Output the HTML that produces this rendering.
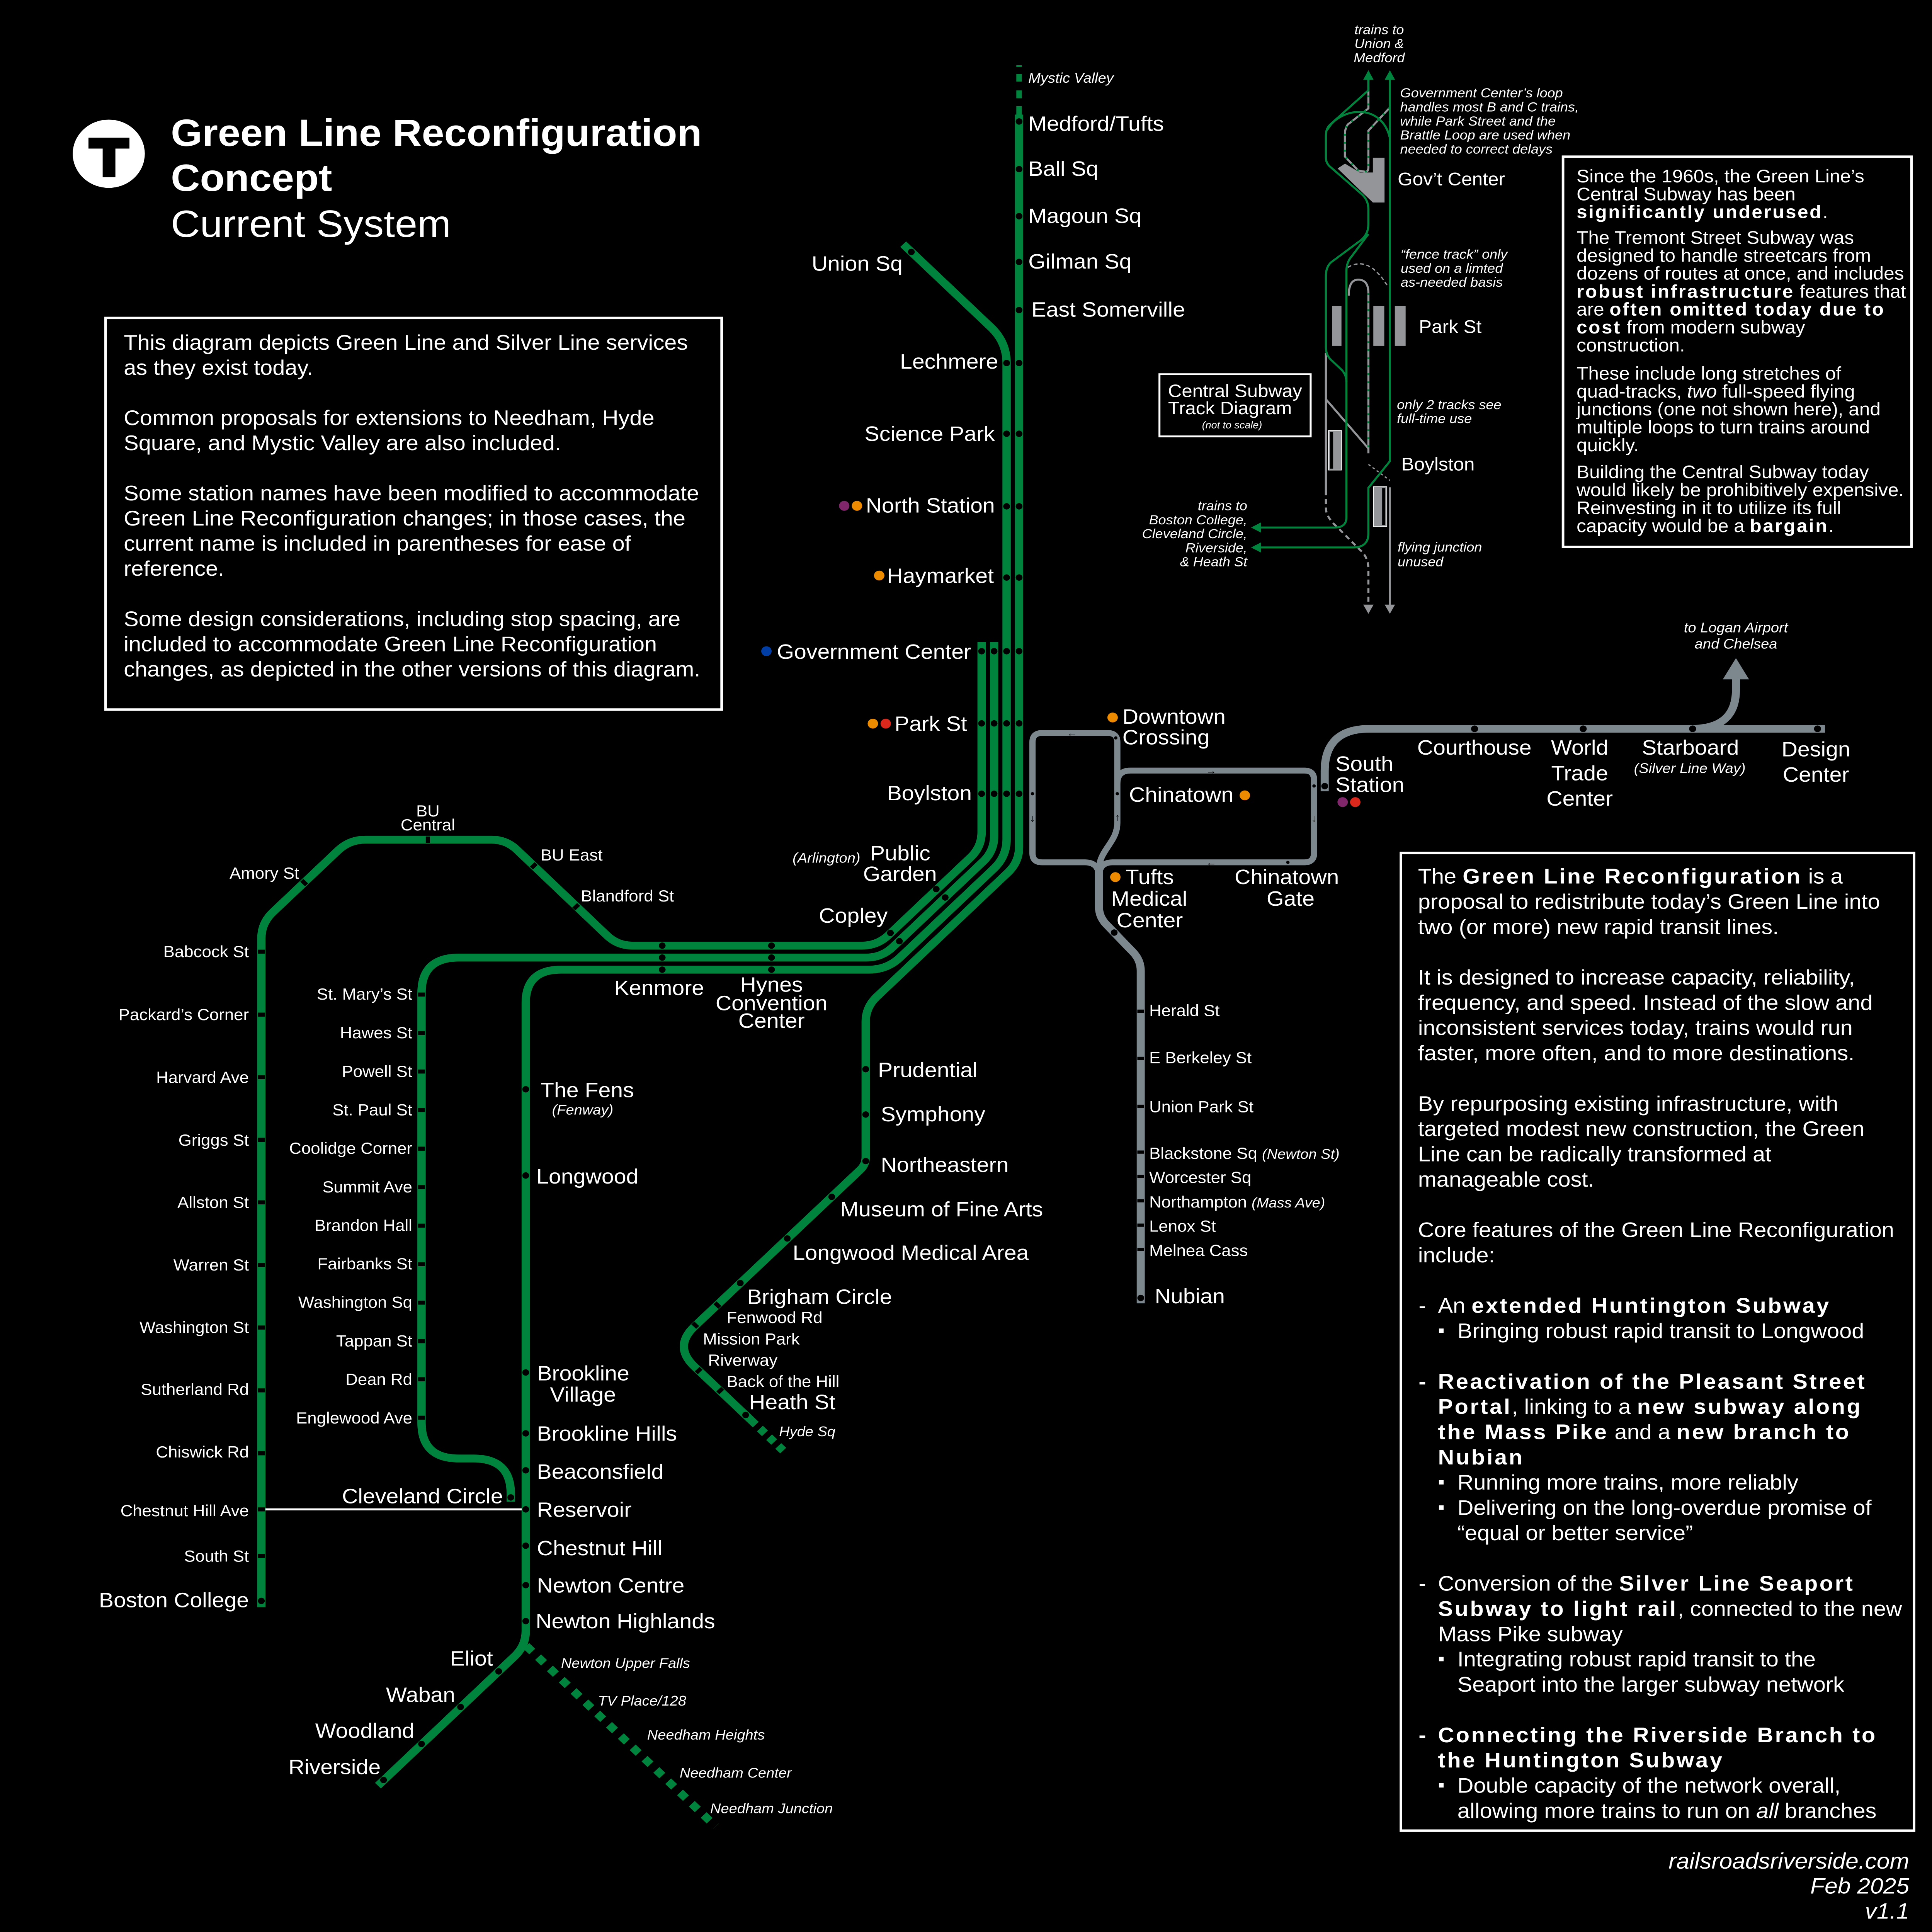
<!DOCTYPE html>
<html><head><meta charset="utf-8"><title>Green Line Reconfiguration Concept - Current System</title>
<style>html,body{margin:0;padding:0;background:#000;width:100%;height:100%;overflow:hidden}svg{display:block;width:100vw;height:100vh}</style></head>
<body>
<svg xmlns="http://www.w3.org/2000/svg" viewBox="0 0 1485 1568.27" preserveAspectRatio="none">
<style>
text{fill:#fff;font-family:"Liberation Sans",Arial,sans-serif}
.M{font-size:17px}.S{font-size:13px}.I{font-size:11.3px;font-style:italic}.N{font-size:10.7px;font-style:italic}
.E{text-anchor:end}.C{text-anchor:middle}.P{font-size:17.15px}.Q{font-size:14.7px}
.bb{font-weight:bold;letter-spacing:1.35px}.bq{font-weight:bold;letter-spacing:1.05px}
</style>
<rect width="1485" height="1568.27" fill="#000"/>

<!-- T logo and title -->
<circle cx="83.6" cy="124.8" r="27.7" fill="#fff"/>
<rect x="68" y="111.8" width="31.5" height="8.8" fill="#000"/>
<rect x="78.9" y="120" width="9.8" height="23.8" fill="#000"/>
<text x="131.3" y="118.4" style="font-size:31px;font-weight:bold">Green Line Reconfiguration</text>
<text x="131.3" y="155" style="font-size:31px;font-weight:bold">Concept</text>
<text x="131.3" y="192.2" style="font-size:31px">Current System</text>

<!-- Left text box -->
<rect x="81.2" y="258.1" width="473.5" height="317.9" fill="none" stroke="#fff" stroke-width="2"/>
<g class="P">
<text x="95.1" y="283.8" class="P">This diagram depicts Green Line and Silver Line services</text>
<text x="95.1" y="304.2" class="P">as they exist today.</text>
<text x="95.1" y="345" class="P">Common proposals for extensions to Needham, Hyde</text>
<text x="95.1" y="365.4" class="P">Square, and Mystic Valley are also included.</text>
<text x="95.1" y="406.2" class="P">Some station names have been modified to accommodate</text>
<text x="95.1" y="426.6" class="P">Green Line Reconfiguration changes; in those cases, the</text>
<text x="95.1" y="447" class="P">current name is included in parentheses for ease of</text>
<text x="95.1" y="467.4" class="P">reference.</text>
<text x="95.1" y="508.2" class="P">Some design considerations, including stop spacing, are</text>
<text x="95.1" y="528.6" class="P">included to accommodate Green Line Reconfiguration</text>
<text x="95.1" y="549" class="P">changes, as depicted in the other versions of this diagram.</text>
</g>

<!-- Silver Line -->
<g fill="none" stroke="#7c878e" stroke-width="4.8">
<path d="M844.7,712 Q844.7,700 834,700 L801,700 Q793.6,700 793.6,692.6 L793.6,602.4 Q793.6,595 801,595 L851.4,595 Q858.8,595 858.8,602.4 L858.8,668 C858.8,684 844.7,690 844.7,706"/>
<path d="M858.8,636 Q858.8,625.5 869,625.5 L1002.6,625.5 Q1010,625.5 1010,633 L1010,692.6 Q1010,700 1002.6,700 L855,700 Q844.7,700 844.7,712"/>
</g>
<g fill="none" stroke="#7c878e" stroke-width="6.2">
<path d="M844.7,704 L844.7,736 Q844.7,744 850,750 L871,773 Q876.8,779.5 876.8,788 L876.8,1058"/>
<path d="M1018.2,642.3 L1018.2,626 Q1018.2,591.6 1052.7,591.6 L1402.7,591.6"/>
<path d="M1300,591.6 Q1334.3,591.6 1334.3,560 L1334.3,550"/>
</g>
<polygon points="1324.2,551.5 1344.4,551.5 1334.3,534.2" fill="#7c878e"/>
<g fill="#000" style="font-size:8px" text-anchor="middle">
<text x="824" y="597.8" style="fill:#000">←</text>
<text x="931" y="628.3" style="fill:#000">→</text>
<text x="931" y="702.8" style="fill:#000">←</text>
<text x="793.6" y="667" style="fill:#000">↓</text>
<text x="858.8" y="666" style="fill:#000">↑</text>
<text x="1010" y="667" style="fill:#000">↓</text>
</g>
<g fill="#000">
<circle cx="857.6" cy="599" r="1.3"/><circle cx="858.8" cy="644.3" r="1.3"/><circle cx="793.6" cy="644.3" r="1.3"/>
<circle cx="989.9" cy="700" r="1.3"/><circle cx="1010" cy="638" r="1.3"/>
<circle cx="1018.2" cy="638.1" r="2.6"/><circle cx="856.4" cy="757" r="2.6"/><circle cx="876.8" cy="1053.6" r="2.6"/>
<circle cx="1133.4" cy="591.6" r="2.7"/><circle cx="1216.9" cy="591.6" r="2.7"/><circle cx="1301" cy="591.6" r="2.7"/><circle cx="1397" cy="591.6" r="2.7"/>
<rect x="874.2" y="819.5" width="5.2" height="2.6"/><rect x="874.2" y="857.8" width="5.2" height="2.6"/>
<rect x="874.2" y="896.7" width="5.2" height="2.6"/><rect x="874.2" y="933.9" width="5.2" height="2.6"/>
<rect x="874.2" y="953.7" width="5.2" height="2.6"/><rect x="874.2" y="973.4" width="5.2" height="2.6"/>
<rect x="874.2" y="993.2" width="5.2" height="2.6"/><rect x="874.2" y="1013" width="5.2" height="2.6"/>
</g>

<!-- Green Line -->
<g fill="none" stroke="#00843d" stroke-width="6.4">
<path d="M754.5,521 L754.5,675.5 Q754.5,687.5 746,696 L682.9,759.1 Q674.4,767.6 662.4,767.6 L486.2,767.6 Q474.8,767.6 466.7,759.5 L397.2,689.7 Q389.1,681.6 377.7,681.6 L281,681.6 Q268.6,681.6 259.8,690.4 L209.7,740.5 Q200.9,749.3 200.9,761.7 L200.9,1304.6"/>
<path d="M764.1,521 L764.1,678.9 Q764.1,690.9 755.6,699.4 L686.2,768.8 Q677.7,777.3 665.7,777.3 L352.7,777.3 Q324,777.3 324,806 L324,1155 Q324,1183.9 352.7,1183.9 L364,1183.9 Q392.6,1183.9 392.6,1212.5 L392.6,1219"/>
<path d="M694.2,198.2 L761.7,265.7 Q773.7,277.7 773.7,294.7 L773.7,681.3 Q773.7,695.3 763.8,705.2 L691.8,777.2 Q681.9,787.1 667.9,787.1 L431.1,787.1 Q404.1,787.1 404.1,814.1 L404.1,1323.9 Q404.1,1335.9 395.6,1344.4 L290.5,1449.5"/>
<path d="M783.3,93 L783.3,687.7 Q783.3,699.7 774.8,708.2 L673.9,809.1 Q665.4,817.6 665.4,829.6 L665.4,939.4 Q665.4,945.4 661.2,949.6 L533.8,1076.7 Q517.5,1093 533.8,1109.3 L577,1152.5"/>
<path d="M577,1152.5 L602,1177.5" stroke-dasharray="5.5 4.5"/>
<path d="M404.5,1336 L550,1482.5" stroke-dasharray="6.5 6.4"/>
</g>
<g fill="#00843d">
<rect x="781.2" y="53" width="4.2" height="1.4"/><rect x="781.2" y="60" width="4.2" height="6.2"/>
<rect x="781.2" y="73.4" width="4.2" height="6.4"/><rect x="781.2" y="86.2" width="4.2" height="7"/>
</g>
<line x1="204" y1="1225.2" x2="401" y2="1225.2" stroke="#fff" stroke-width="1.6"/>

<!-- stop dots -->
<g fill="#000">
<circle cx="783.3" cy="98.6" r="2.6"/><circle cx="783.3" cy="137.3" r="2.6"/><circle cx="783.3" cy="175.5" r="2.6"/>
<circle cx="783.3" cy="212.6" r="2.6"/><circle cx="783.3" cy="251.7" r="2.6"/><circle cx="783.3" cy="294.7" r="2.6"/>
<circle cx="783.3" cy="352.1" r="2.6"/><circle cx="783.3" cy="411" r="2.6"/><circle cx="783.3" cy="468.8" r="2.6"/>
<circle cx="783.3" cy="528.6" r="2.6"/><circle cx="783.3" cy="587.2" r="2.6"/><circle cx="783.3" cy="644.3" r="2.6"/>
<circle cx="773.7" cy="294.7" r="2.6"/><circle cx="773.7" cy="352.1" r="2.6"/><circle cx="773.7" cy="411" r="2.6"/>
<circle cx="773.7" cy="468.8" r="2.6"/><circle cx="773.7" cy="528.6" r="2.6"/><circle cx="773.7" cy="587.2" r="2.6"/>
<circle cx="773.7" cy="644.3" r="2.6"/>
<circle cx="764.1" cy="528.6" r="2.6"/><circle cx="764.1" cy="587.2" r="2.6"/><circle cx="764.1" cy="644.3" r="2.6"/>
<circle cx="754.5" cy="528.6" r="2.6"/><circle cx="754.5" cy="587.2" r="2.6"/><circle cx="754.5" cy="644.3" r="2.6"/>
<circle cx="700.5" cy="204.5" r="2.6"/>
<circle cx="684.4" cy="757.3" r="2.6"/><circle cx="691.3" cy="764" r="2.6"/>
<circle cx="719.6" cy="721.7" r="2.6"/><circle cx="726.5" cy="728.5" r="2.6"/>
<circle cx="509" cy="767.6" r="2.6"/><circle cx="509" cy="777.3" r="2.6"/><circle cx="509" cy="787.1" r="2.6"/>
<circle cx="593" cy="767.6" r="2.6"/><circle cx="593" cy="777.3" r="2.6"/><circle cx="593" cy="787.1" r="2.6"/>
<circle cx="665.4" cy="867.9" r="2.6"/><circle cx="665.4" cy="904.7" r="2.6"/><circle cx="665.4" cy="942.5" r="2.6"/>
<circle cx="639.3" cy="971.5" r="2.6"/><circle cx="605.1" cy="1005.3" r="2.6"/><circle cx="569" cy="1041.5" r="2.6"/>
<circle cx="573.1" cy="1148.6" r="2.6"/>
<circle cx="404.1" cy="884.2" r="2.6"/><circle cx="404.1" cy="954.2" r="2.6"/><circle cx="404.1" cy="1114.1" r="2.6"/>
<circle cx="404.1" cy="1163.5" r="2.6"/><circle cx="404.1" cy="1193.5" r="2.6"/><circle cx="404.1" cy="1225.2" r="2.6"/>
<circle cx="404.1" cy="1254.7" r="2.6"/><circle cx="404.1" cy="1286.7" r="2.6"/><circle cx="404.1" cy="1315.9" r="2.6"/>
<circle cx="383.3" cy="1356.7" r="2.6"/><circle cx="354" cy="1385.6" r="2.6"/><circle cx="324" cy="1415.6" r="2.6"/>
<circle cx="294.8" cy="1444.9" r="2.6"/>
<circle cx="392.6" cy="1215.5" r="2.6"/><circle cx="200.9" cy="1299.5" r="2.6"/>
<!-- B ticks -->
<rect x="198.3" y="770.85" width="5.2" height="3.3"/><rect x="198.3" y="821.95" width="5.2" height="3.3"/>
<rect x="198.3" y="872.75" width="5.2" height="3.3"/><rect x="198.3" y="923.55" width="5.2" height="3.3"/>
<rect x="198.3" y="974.35" width="5.2" height="3.3"/><rect x="198.3" y="1025.15" width="5.2" height="3.3"/>
<rect x="198.3" y="1075.95" width="5.2" height="3.3"/><rect x="198.3" y="1126.95" width="5.2" height="3.3"/>
<rect x="198.3" y="1178.05" width="5.2" height="3.3"/><rect x="198.3" y="1223.55" width="5.2" height="3.3"/>
<rect x="198.3" y="1261.35" width="5.2" height="3.3"/>
<!-- C ticks -->
<rect x="321.4" y="805.65" width="5.2" height="3.3"/><rect x="321.4" y="836.95" width="5.2" height="3.3"/>
<rect x="321.4" y="868.15" width="5.2" height="3.3"/><rect x="321.4" y="899.45" width="5.2" height="3.3"/>
<rect x="321.4" y="930.75" width="5.2" height="3.3"/><rect x="321.4" y="961.95" width="5.2" height="3.3"/>
<rect x="321.4" y="993.25" width="5.2" height="3.3"/><rect x="321.4" y="1024.55" width="5.2" height="3.3"/>
<rect x="321.4" y="1055.75" width="5.2" height="3.3"/><rect x="321.4" y="1087.05" width="5.2" height="3.3"/>
<rect x="321.4" y="1117.95" width="5.2" height="3.3"/><rect x="321.4" y="1149.15" width="5.2" height="3.3"/>
<!-- diagonal ticks -->
<rect x="-2.6" y="-1.65" width="5.2" height="3.3" transform="translate(233.8,716.4) rotate(45)"/>
<rect x="-2.6" y="-1.65" width="5.2" height="3.3" transform="translate(328.9,681.6) rotate(90)"/>
<rect x="-2.6" y="-1.65" width="5.2" height="3.3" transform="translate(410.3,702.8) rotate(-45)"/>
<rect x="-2.6" y="-1.65" width="5.2" height="3.3" transform="translate(442.9,736) rotate(-45)"/>
<rect x="-2.6" y="-1.65" width="5.2" height="3.3" transform="translate(551.4,1059.4) rotate(45)"/>
<rect x="-2.6" y="-1.65" width="5.2" height="3.3" transform="translate(534.4,1075.7) rotate(45)"/>
<rect x="-2.6" y="-1.65" width="5.2" height="3.3" transform="translate(537,1112.5) rotate(-45)"/>
<rect x="-2.6" y="-1.65" width="5.2" height="3.3" transform="translate(553.6,1128.8) rotate(-45)"/>
</g>

<!-- interchange dots -->
<circle cx="648.9" cy="410.6" r="4" fill="#80276c"/><circle cx="658.7" cy="410.6" r="4" fill="#ed8b00"/>
<circle cx="675.8" cy="467.2" r="4" fill="#ed8b00"/>
<circle cx="589.1" cy="528.6" r="4" fill="#003da5"/>
<circle cx="670.9" cy="587.4" r="4" fill="#ed8b00"/><circle cx="680.8" cy="587.4" r="4" fill="#da291c"/>
<circle cx="855.2" cy="582.4" r="4" fill="#ed8b00"/>
<circle cx="956.8" cy="645.6" r="4" fill="#ed8b00"/>
<circle cx="857.3" cy="712" r="4" fill="#ed8b00"/>
<circle cx="1032" cy="651.1" r="4" fill="#80276c"/><circle cx="1041.7" cy="651.1" r="4" fill="#da291c"/>

<!-- Major labels -->
<g class="M">
<text x="790.4" y="106.2" class="M">Medford/Tufts</text>
<text x="790.4" y="142.7" class="M">Ball Sq</text>
<text x="790.4" y="181" class="M">Magoun Sq</text>
<text x="790.4" y="218" class="M">Gilman Sq</text>
<text x="792.8" y="257.1" class="M">East Somerville</text>
<text x="693.8" y="219.7" class="M E">Union Sq</text>
<text x="767.3" y="299.2" class="M E">Lechmere</text>
<text x="764.7" y="357.9" class="M E">Science Park</text>
<text x="764.7" y="416.1" class="M E">North Station</text>
<text x="763.9" y="473.2" class="M E">Haymarket</text>
<text x="746.4" y="534.8" class="M E">Government Center</text>
<text x="743.3" y="593.2" class="M E">Park St</text>
<text x="747" y="649.6" class="M E">Boylston</text>
<text x="668.8" y="698.4" class="M">Public</text>
<text x="663.4" y="715.2" class="M">Garden</text>
<text x="682.3" y="749" class="M E">Copley</text>
<text x="472.2" y="807.6" class="M">Kenmore</text>
<text x="593" y="805" class="M C">Hynes</text>
<text x="593" y="820" class="M C">Convention</text>
<text x="593" y="834.4" class="M C">Center</text>
<text x="862.7" y="587.4" class="M">Downtown</text>
<text x="862.7" y="604.2" class="M">Crossing</text>
<text x="867.8" y="650.8" class="M">Chinatown</text>
<text x="865.1" y="717.6" class="M">Tufts</text>
<text x="854" y="735.2" class="M">Medical</text>
<text x="858.2" y="752.8" class="M">Center</text>
<text x="948.9" y="717.6" class="M">Chinatown</text>
<text x="992" y="735.2" class="M C">Gate</text>
<text x="1026.5" y="625.7" class="M">South</text>
<text x="1026.5" y="642.8" class="M">Station</text>
<text x="1089.3" y="612.5" class="M">Courthouse</text>
<text x="1214.2" y="612.5" class="M C">World</text>
<text x="1214.2" y="633.5" class="M C">Trade</text>
<text x="1214.2" y="653.9" class="M C">Center</text>
<text x="1299.3" y="612.5" class="M C">Starboard</text>
<text x="1395.8" y="613.9" class="M C">Design</text>
<text x="1395.8" y="634.6" class="M C">Center</text>
<text x="887.6" y="1058" class="M">Nubian</text>
<text x="674.8" y="874.3" class="M">Prudential</text>
<text x="677" y="910.3" class="M">Symphony</text>
<text x="677" y="951.3" class="M">Northeastern</text>
<text x="645.8" y="987.4" class="M">Museum of Fine Arts</text>
<text x="609.3" y="1022.6" class="M">Longwood Medical Area</text>
<text x="574.2" y="1058.4" class="M">Brigham Circle</text>
<text x="575.9" y="1143.9" class="M">Heath St</text>
<text x="415.5" y="890.7" class="M">The Fens</text>
<text x="412.3" y="960.7" class="M">Longwood</text>
<text x="412.9" y="1120.5" class="M">Brookline</text>
<text x="422.7" y="1137.8" class="M">Village</text>
<text x="412.7" y="1169.5" class="M">Brookline Hills</text>
<text x="412.7" y="1200.4" class="M">Beaconsfield</text>
<text x="412.7" y="1231.3" class="M">Reservoir</text>
<text x="412.7" y="1262.4" class="M">Chestnut Hill</text>
<text x="412.7" y="1292.7" class="M">Newton Centre</text>
<text x="411.7" y="1321.7" class="M">Newton Highlands</text>
<text x="386.6" y="1220.2" class="M E">Cleveland Circle</text>
<text x="378.9" y="1352" class="M E">Eliot</text>
<text x="349.9" y="1381.5" class="M E">Waban</text>
<text x="318.5" y="1410.7" class="M E">Woodland</text>
<text x="292.6" y="1440.2" class="M E">Riverside</text>
<text x="191.3" y="1304.6" class="M E">Boston College</text>
</g>

<!-- Minor labels -->
<text x="191.3" y="777" class="S E">Babcock St</text>
<text x="191.3" y="828" class="S E">Packard’s Corner</text>
<text x="191.3" y="879" class="S E">Harvard Ave</text>
<text x="191.3" y="930" class="S E">Griggs St</text>
<text x="191.3" y="980.5" class="S E">Allston St</text>
<text x="191.3" y="1031.3" class="S E">Warren St</text>
<text x="191.3" y="1082" class="S E">Washington St</text>
<text x="191.3" y="1132.3" class="S E">Sutherland Rd</text>
<text x="191.3" y="1183.1" class="S E">Chiswick Rd</text>
<text x="191.3" y="1230.8" class="S E">Chestnut Hill Ave</text>
<text x="191.3" y="1267.7" class="S E">South St</text>
<text x="229.9" y="713.2" class="S E">Amory St</text>
<text x="328.9" y="662.7" class="S C">BU</text>
<text x="328.9" y="674" class="S C">Central</text>
<text x="415.5" y="698.5" class="S">BU East</text>
<text x="446.5" y="731.7" class="S">Blandford St</text>
<text x="316.9" y="811.5" class="S E">St. Mary’s St</text>
<text x="316.9" y="842.8" class="S E">Hawes St</text>
<text x="316.9" y="874.1" class="S E">Powell St</text>
<text x="316.9" y="905.3" class="S E">St. Paul St</text>
<text x="316.9" y="936.6" class="S E">Coolidge Corner</text>
<text x="316.9" y="967.9" class="S E">Summit Ave</text>
<text x="316.9" y="999.1" class="S E">Brandon Hall</text>
<text x="316.9" y="1030.4" class="S E">Fairbanks St</text>
<text x="316.9" y="1061.6" class="S E">Washington Sq</text>
<text x="316.9" y="1092.9" class="S E">Tappan St</text>
<text x="316.9" y="1124.2" class="S E">Dean Rd</text>
<text x="316.9" y="1155.5" class="S E">Englewood Ave</text>
<text x="558.5" y="1074" class="S">Fenwood Rd</text>
<text x="540.3" y="1091.3" class="S">Mission Park</text>
<text x="544.2" y="1108.6" class="S">Riverway</text>
<text x="558.5" y="1125.8" class="S">Back of the Hill</text>
<text x="883.3" y="824.7" class="S">Herald St</text>
<text x="883.3" y="863" class="S">E Berkeley St</text>
<text x="883.3" y="902.9" class="S">Union Park St</text>
<text x="883.3" y="940.6" class="S">Blackstone Sq <tspan class="I">(Newton St)</tspan></text>
<text x="883.3" y="960.3" class="S">Worcester Sq</text>
<text x="883.3" y="980.1" class="S">Northampton <tspan class="I">(Mass Ave)</tspan></text>
<text x="883.3" y="999.7" class="S">Lenox St</text>
<text x="883.3" y="1019.6" class="S">Melnea Cass</text>

<!-- italic small labels -->
<text x="790.4" y="67.1" class="I">Mystic Valley</text>
<text x="661.3" y="700.2" class="I E">(Arlington)</text>
<text x="424.3" y="904.7" class="I">(Fenway)</text>
<text x="598.8" y="1165.9" class="I">Hyde Sq</text>
<text x="431.2" y="1353.9" class="I">Newton Upper Falls</text>
<text x="459.6" y="1384.5" class="I">TV Place/128</text>
<text x="497.4" y="1412.1" class="I">Needham Heights</text>
<text x="522.4" y="1443" class="I">Needham Center</text>
<text x="545.9" y="1471.9" class="I">Needham Junction</text>
<text x="1298.8" y="627.4" class="I C">(Silver Line Way)</text>
<text x="1334.3" y="513.3" class="I C">to Logan Airport</text>
<text x="1334.3" y="526.5" class="I C">and Chelsea</text>

<!-- Central Subway track diagram -->
<g fill="none" stroke-width="1.6">
<path d="M1019.1,286.5 L1019.1,398" stroke="#939598"/>
<path d="M1019.1,398 L1019.1,412 Q1019.1,420 1028,428 L1045,446 Q1051.8,452 1051.8,462 L1051.8,492" stroke="#939598" stroke-dasharray="4 3"/>
<path d="M1068.3,395.6 L1068.3,492" stroke="#939598"/>
<path d="M1019.1,324 L1051.8,364" stroke="#939598"/>
<path d="M1051.8,377 L1068.3,390" stroke="#939598" stroke-dasharray="2 2" stroke-width="1"/>
<path d="M1036,217 Q1052,207 1066.4,232" stroke="#939598" stroke-dasharray="3 2" stroke-width="1"/>
<path d="M1036.7,240 Q1036.7,227 1044,227 Q1051.8,227 1051.8,238 L1051.8,368" stroke="#939598"/>
<path d="M1051.8,238 L1051.8,368" stroke="#00843d" stroke-dasharray="1.5 5"/>
<path d="M1051.8,64.5 L1051.8,88 L1036,101 Q1033.7,104 1033.7,110 L1033.7,127 L1044,138.5 L1049.5,139.4 Q1051.8,139.4 1051.8,136 L1051.8,106 L1068.3,87.3" stroke="#939598"/>
<path d="M1051.8,64.5 L1051.8,88 L1036,101 Q1033.7,104 1033.7,110 L1033.7,127 L1044,138.5 L1049.5,139.4 Q1051.8,139.4 1051.8,136 L1051.8,106 L1068.3,87.3" stroke="#00843d" stroke-dasharray="1.5 5"/>
<path d="M1068.3,64 L1068.3,374.4 L1051.8,396 L1051.8,433 Q1051.8,444.4 1040,444.4 L968,444.4" stroke="#00843d"/>
<path d="M1051.8,64 L1051.8,73.3 L1022.5,101 Q1019.1,104.5 1019.1,110 L1019.1,128 Q1019.1,132 1022,135 L1046,157 Q1051.8,162 1051.8,170 L1051.8,182 Q1051.8,190 1046,195 L1023,213 Q1019.1,217 1019.1,224 L1019.1,282 Q1019.1,288 1023,292 L1031,300 Q1034.9,304 1034.9,310 L1034.9,420 Q1034.9,428.2 1026,428.2 L968,428.2" stroke="#00843d"/>
<path d="M1051.8,190 L1039,208 Q1034.9,213 1034.9,220 L1034.9,310" stroke="#00843d"/>
<path d="M1020.5,105 C1030,87 1062,83 1068.3,112" stroke="#00843d"/>
</g>
<polygon points="1028.1,136.8 1033.8,132.8 1045.1,140 1055.2,140 1055.2,128 1064.2,128 1064.2,164.4 1055.2,164.4" fill="#939598"/>
<rect x="1023.9" y="248.4" width="7.2" height="32.3" fill="#939598"/>
<rect x="1055.6" y="248.4" width="8.4" height="32.3" fill="#939598"/>
<rect x="1072.1" y="248.4" width="8.3" height="32.3" fill="#939598"/>
<rect x="1021.1" y="349.4" width="10" height="32.2" fill="#939598" stroke="#fff" stroke-width="0.5"/>
<rect x="1022.3" y="350.6" width="2.4" height="29.8" fill="#000"/>
<rect x="1055.6" y="395" width="10.4" height="32.5" fill="#939598" stroke="#fff" stroke-width="0.5"/>
<rect x="1062.4" y="396.2" width="2.4" height="30" fill="#000"/>
<polygon points="1051.8,57 1047.8,64.8 1055.8,64.8" fill="#00843d"/>
<polygon points="1068.3,57 1064.3,64.8 1072.3,64.8" fill="#00843d"/>
<polygon points="961.6,428.2 969.4,424 969.4,432.4" fill="#00843d"/>
<polygon points="961.6,444.4 969.4,440.2 969.4,448.6" fill="#00843d"/>
<polygon points="1051.8,498.2 1047.8,490.8 1055.8,490.8" fill="#939598"/>
<polygon points="1068.3,498.2 1064.3,490.8 1072.3,490.8" fill="#939598"/>

<text x="1060.1" y="27.7" class="N C">trains to</text>
<text x="1060.1" y="39.1" class="N C">Union &amp;</text>
<text x="1060.1" y="50.5" class="N C">Medford</text>
<text x="1076.2" y="79.1" class="N">Government Center’s loop</text>
<text x="1076.2" y="90.5" class="N">handles most B and C trains,</text>
<text x="1076.2" y="101.9" class="N">while Park Street and the</text>
<text x="1076.2" y="113.3" class="N">Brattle Loop are used when</text>
<text x="1076.2" y="124.7" class="N">needed to correct delays</text>
<text x="1074.3" y="150.4" class="Q">Gov’t Center</text>
<text x="1076.6" y="210" class="N">“fence track” only</text>
<text x="1076.6" y="221.4" class="N">used on a limted</text>
<text x="1076.6" y="232.8" class="N">as-needed basis</text>
<text x="1090.6" y="270.2" class="Q">Park St</text>
<text x="1073.7" y="332.1" class="N">only 2 tracks see</text>
<text x="1073.7" y="343.5" class="N">full-time use</text>
<text x="1077.1" y="381.9" class="Q">Boylston</text>
<text x="1074.3" y="447.7" class="N">flying junction</text>
<text x="1074.3" y="459.7" class="N">unused</text>
<text x="958.7" y="414.2" class="N E">trains to</text>
<text x="958.7" y="425.6" class="N E">Boston College,</text>
<text x="958.7" y="437" class="N E">Cleveland Circle,</text>
<text x="958.7" y="448.4" class="N E">Riverside,</text>
<text x="958.7" y="459.7" class="N E">&amp; Heath St</text>
<rect x="891.2" y="303.8" width="116.2" height="50.4" fill="none" stroke="#fff" stroke-width="1.5"/>
<text x="897.8" y="322.3" style="font-size:14.6px">Central Subway</text>
<text x="897.8" y="336.3" style="font-size:14.6px">Track Diagram</text>
<text x="947" y="347.7" class="C" style="font-size:8px;font-style:italic">(not to scale)</text>

<!-- Top right box -->
<rect x="1201.4" y="127.2" width="267.8" height="316.8" fill="none" stroke="#fff" stroke-width="2"/>
<g>
<text x="1211.8" y="148" class="Q">Since the 1960s, the Green Line’s</text>
<text x="1211.8" y="162.6" class="Q">Central Subway has been</text>
<text x="1211.8" y="177.1" class="Q"><tspan class="bq">significantly underused</tspan>.</text>
<text x="1211.8" y="197.9" class="Q">The Tremont Street Subway was</text>
<text x="1211.8" y="212.5" class="Q">designed to handle streetcars from</text>
<text x="1211.8" y="227" class="Q">dozens of routes at once, and includes</text>
<text x="1211.8" y="241.6" class="Q"><tspan class="bq">robust infrastructure</tspan> features that</text>
<text x="1211.8" y="256.1" class="Q">are <tspan class="bq">often omitted today due to</tspan></text>
<text x="1211.8" y="270.7" class="Q"><tspan class="bq">cost</tspan> from modern subway</text>
<text x="1211.8" y="285.2" class="Q">construction.</text>
<text x="1211.8" y="308.1" class="Q">These include long stretches of</text>
<text x="1211.8" y="322.7" class="Q">quad-tracks, <tspan font-style="italic">two</tspan> full-speed flying</text>
<text x="1211.8" y="337.2" class="Q">junctions (one not shown here), and</text>
<text x="1211.8" y="351.8" class="Q">multiple loops to turn trains around</text>
<text x="1211.8" y="366.4" class="Q">quickly.</text>
<text x="1211.8" y="388.2" class="Q">Building the Central Subway today</text>
<text x="1211.8" y="402.8" class="Q">would likely be prohibitively expensive.</text>
<text x="1211.8" y="417.3" class="Q">Reinvesting in it to utilize its full</text>
<text x="1211.8" y="431.9" class="Q">capacity would be a <tspan class="bq">bargain</tspan>.</text>
</g>

<!-- Bottom right box -->
<rect x="1076.8" y="692.4" width="394.4" height="793.6" fill="none" stroke="#fff" stroke-width="2"/>
<g>
<text x="1089.9" y="717.2" class="P">The <tspan class="bb">Green Line Reconfiguration</tspan> is a</text>
<text x="1089.9" y="737.7" class="P">proposal to redistribute today’s Green Line into</text>
<text x="1089.9" y="758.2" class="P">two (or more) new rapid transit lines.</text>
<text x="1089.9" y="799.2" class="P">It is designed to increase capacity, reliability,</text>
<text x="1089.9" y="819.7" class="P">frequency, and speed. Instead of the slow and</text>
<text x="1089.9" y="840.2" class="P">inconsistent services today, trains would run</text>
<text x="1089.9" y="860.7" class="P">faster, more often, and to more destinations.</text>
<text x="1089.9" y="901.7" class="P">By repurposing existing infrastructure, with</text>
<text x="1089.9" y="922.2" class="P">targeted modest new construction, the Green</text>
<text x="1089.9" y="942.7" class="P">Line can be radically transformed at</text>
<text x="1089.9" y="963.2" class="P">manageable cost.</text>
<text x="1089.9" y="1004.2" class="P">Core features of the Green Line Reconfiguration</text>
<text x="1089.9" y="1024.7" class="P">include:</text>

<text x="1090.4" y="1065.7" class="P">-</text>
<text x="1105.3" y="1065.7" class="P">An <tspan class="bb">extended Huntington Subway</tspan></text>
<text x="1120.2" y="1086.2" class="P">Bringing robust rapid transit to Longwood</text>

<text x="1090.4" y="1127.2" class="P" font-weight="bold">-</text>
<text x="1105.3" y="1127.2" class="P"><tspan class="bb">Reactivation of the Pleasant Street</tspan></text>
<text x="1105.3" y="1147.7" class="P"><tspan class="bb">Portal</tspan>, linking to a <tspan class="bb">new subway along</tspan></text>
<text x="1105.3" y="1168.2" class="P"><tspan class="bb">the Mass Pike</tspan> and a <tspan class="bb">new branch to</tspan></text>
<text x="1105.3" y="1188.7" class="P"><tspan class="bb">Nubian</tspan></text>
<text x="1120.2" y="1209.2" class="P">Running more trains, more reliably</text>
<text x="1120.2" y="1229.7" class="P">Delivering on the long-overdue promise of</text>
<text x="1120.2" y="1250.2" class="P">“equal or better service”</text>

<text x="1090.4" y="1291.2" class="P">-</text>
<text x="1105.3" y="1291.2" class="P">Conversion of the <tspan class="bb">Silver Line Seaport</tspan></text>
<text x="1105.3" y="1311.7" class="P"><tspan class="bb">Subway to light rail</tspan>, connected to the new</text>
<text x="1105.3" y="1332.2" class="P">Mass Pike subway</text>
<text x="1120.2" y="1352.7" class="P">Integrating robust rapid transit to the</text>
<text x="1120.2" y="1373.2" class="P">Seaport into the larger subway network</text>

<text x="1090.4" y="1414.2" class="P" font-weight="bold">-</text>
<text x="1105.3" y="1414.2" class="P"><tspan class="bb">Connecting the Riverside Branch to</tspan></text>
<text x="1105.3" y="1434.7" class="P"><tspan class="bb">the Huntington Subway</tspan></text>
<text x="1120.2" y="1455.2" class="P">Double capacity of the network overall,</text>
<text x="1120.2" y="1475.7" class="P">allowing more trains to run on <tspan font-style="italic">all</tspan> branches</text>
</g>
<g fill="#fff">
<rect x="1106" y="1078.4" width="3.6" height="3.6"/>
<rect x="1106" y="1201.4" width="3.6" height="3.6"/>
<rect x="1106" y="1221.9" width="3.6" height="3.6"/>
<rect x="1106" y="1344.9" width="3.6" height="3.6"/>
<rect x="1106" y="1447.4" width="3.6" height="3.6"/>
</g>

<!-- Footer -->
<text x="1467.5" y="1516.9" class="E" style="font-size:18px;font-style:italic">railsroadsriverside.com</text>
<text x="1467.5" y="1537" class="E" style="font-size:18px;font-style:italic">Feb 2025</text>
<text x="1467.5" y="1557.5" class="E" style="font-size:18px;font-style:italic">v1.1</text>
</svg>
</body></html>
